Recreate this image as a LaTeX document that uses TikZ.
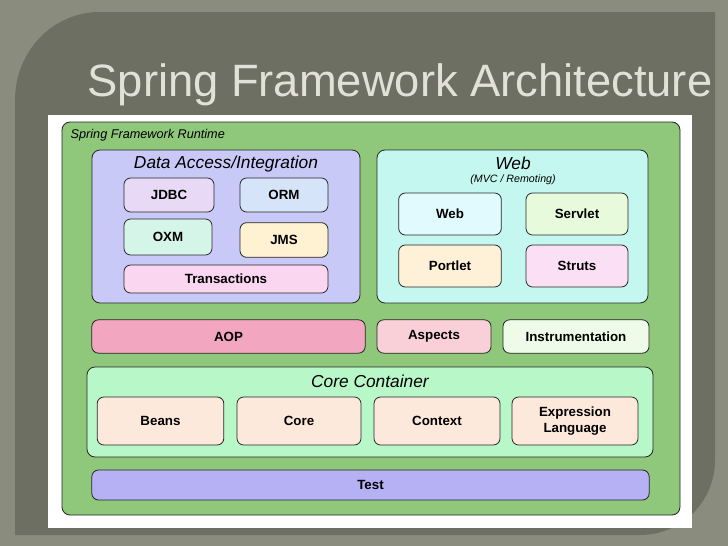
\documentclass[tikz,border=0pt]{standalone}
\usepackage{fontspec}
\setmainfont{Liberation Sans}
\begin{document}
\begin{tikzpicture}[x=0.75pt,y=-0.75pt,
  box/.style={draw=black!85,rounded corners=5pt,line width=0.6pt,font=\bfseries\fontsize{10}{12}\selectfont,align=center},
  grp/.style={draw=black!85,rounded corners=6pt,line width=0.6pt},
  ttl/.style={font=\itshape\fontsize{13}{15}\selectfont}]
\useasboundingbox (0,0) rectangle (728,546);
\fill[fill={rgb,255:red,138;green,140;blue,126}] (0,0) rectangle (728,546);
\fill[fill={rgb,255:red,108;green,111;blue,97}] (15,100) to[out=90,in=180] (100,12) -- (715,12) -- (715,460) to[out=-90,in=0] (640,535) -- (15,535) -- cycle;
\node[font=\fontsize{34}{40}\selectfont,text={rgb,255:red,225;green,225;blue,215}] (title) at (400,85) {Spring Framework Architecture};
\fill[white] (48,115) rectangle (692,528);
\draw[grp,fill={rgb,255:red,143;green,199;blue,123}] (62,122) rectangle (680,515);
\node[anchor=west,font=\itshape\fontsize{9.5}{11}\selectfont] (rt) at (66,135) {Spring Framework Runtime};
% data access
\draw[grp,fill={rgb,255:red,200;green,201;blue,247}] (92,150) rectangle (360,303);
\node[ttl] (da) at (226,164) {Data Access/Integration};
\node[box,fill={rgb,255:red,232;green,218;blue,247},minimum width=67.5pt,minimum height=25.5pt] (jdbc) at (169,195) {JDBC};
\node[box,fill={rgb,255:red,214;green,228;blue,250},minimum width=66pt,minimum height=25.5pt] (orm) at (284,195) {ORM};
\node[box,fill={rgb,255:red,213;green,245;blue,232},minimum width=66pt,minimum height=27pt] (oxm) at (168,237) {OXM};
\node[box,fill={rgb,255:red,255;green,242;blue,210},minimum width=66pt,minimum height=26pt] (jms) at (284,240) {JMS};
\node[box,fill={rgb,255:red,250;green,214;blue,240},minimum width=153pt,minimum height=21pt] (tx) at (226,279) {Transactions};
% web
\draw[grp,fill={rgb,255:red,196;green,247;blue,240}] (377,150) rectangle (648,303);
\node[ttl] (web) at (513,163) {Web};
\node[font=\itshape\fontsize{8}{10}\selectfont] (mvc) at (513,180) {(MVC / Remoting)};
\node[box,fill={rgb,255:red,224;green,250;blue,253},minimum width=77pt,minimum height=31.5pt] (w) at (450,214) {Web};
\node[box,fill={rgb,255:red,232;green,250;blue,220},minimum width=76.5pt,minimum height=31.5pt] (sv) at (577,214) {Servlet};
\node[box,fill={rgb,255:red,255;green,240;blue,216},minimum width=77pt,minimum height=31.5pt] (pt) at (450,266) {Portlet};
\node[box,fill={rgb,255:red,251;green,224;blue,245},minimum width=76.5pt,minimum height=31.5pt] (st) at (577,266) {Struts};
% middle row
\node[box,fill={rgb,255:red,243;green,166;blue,192},minimum width=205pt,minimum height=25pt] (aop) at (228.5,336.5) {AOP};
\node[box,fill={rgb,255:red,250;green,208;blue,216},minimum width=85.5pt,minimum height=25pt] (asp) at (434,336.5) {Aspects};
\node[box,fill={rgb,255:red,238;green,251;blue,232},minimum width=109.5pt,minimum height=25pt] (ins) at (576,336.5) {Instrumentation};
% core container
\draw[grp,fill={rgb,255:red,184;green,247;blue,200}] (87,367) rectangle (653,457);
\node[ttl] (cc) at (370,381) {Core Container};
\node[box,fill={rgb,255:red,253;green,232;blue,220},minimum width=95pt,minimum height=36pt] (beans) at (160.5,421) {Beans};
\node[box,fill={rgb,255:red,253;green,232;blue,220},minimum width=93pt,minimum height=36pt] (core) at (299,421) {Core};
\node[box,fill={rgb,255:red,253;green,232;blue,220},minimum width=94.5pt,minimum height=36pt] (ctx) at (437,421) {Context};
\node[box,fill={rgb,255:red,253;green,232;blue,220},minimum width=94.5pt,minimum height=36pt] (el) at (575,421) {Expression\\Language};
% test
\node[box,fill={rgb,255:red,182;green,176;blue,245},minimum width=418pt,minimum height=22.5pt] (test) at (370.5,485) {Test};
\end{tikzpicture}
\end{document}
